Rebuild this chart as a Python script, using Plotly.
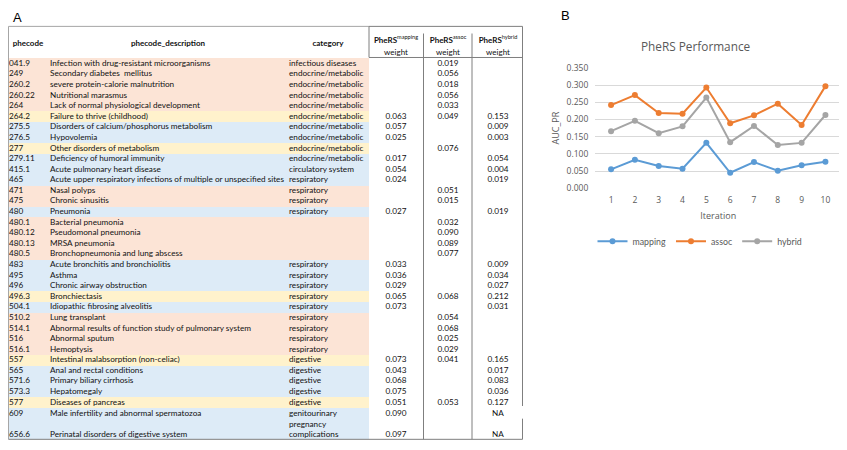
import plotly.graph_objects as go

# ---------------- data: panel A (table) ----------------
phecodes = ["041.9", "249", "260.2", "260.22", "264", "264.2", "275.5", "276.5", "277",
            "279.11", "415.1", "465", "471", "475", "480", "480.1", "480.12", "480.13",
            "480.5", "483", "495", "496", "496.3", "504.1", "510.2", "514.1", "516",
            "516.1", "557", "565", "571.6", "573.3", "577", "609", "656.6"]
descriptions = [
    "Infection with drug-resistant microorganisms", "Secondary diabetes  mellitus",
    "severe protein-calorie malnutrition", "Nutritional marasmus",
    "Lack of normal physiological development", "Failure to thrive (childhood)",
    "Disorders of calcium/phosphorus metabolism", "Hypovolemia",
    "Other disorders of metabolism", "Deficiency of humoral immunity",
    "Acute pulmonary heart disease",
    "Acute upper respiratory infections of multiple or unspecified sites",
    "Nasal polyps", "Chronic sinusitis", "Pneumonia", "Bacterial pneumonia",
    "Pseudomonal pneumonia", "MRSA pneumonia", "Bronchopneumonia and lung abscess",
    "Acute bronchitis and bronchiolitis", "Asthma", "Chronic airway obstruction",
    "Bronchiectasis", "Idiopathic fibrosing alveolitis", "Lung transplant",
    "Abnormal results of function study of pulmonary system", "Abnormal sputum",
    "Hemoptysis", "Intestinal malabsorption (non-celiac)", "Anal and rectal conditions",
    "Primary biliary cirrhosis", "Hepatomegaly", "Diseases of pancreas",
    "Male infertility and abnormal spermatozoa", "Perinatal disorders of digestive system"]
categories = ["infectious diseases"] + ["endocrine/metabolic"] * 9 + [
    "circulatory system", "respiratory", "respiratory", "respiratory", "respiratory",
    "", "", "", ""] + ["respiratory"] * 9 + ["digestive"] * 5 + [
    "genitourinary", "pregnancy<br>complications"]
w_mapping = [None, None, None, None, None, 0.063, 0.057, 0.025, None, 0.017, 0.054, 0.024,
             None, None, 0.027, None, None, None, None, 0.033, 0.036, 0.029, 0.065, 0.073,
             None, None, None, None, 0.073, 0.043, 0.068, 0.075, 0.051, 0.090, 0.097]
w_assoc = [0.019, 0.056, 0.018, 0.056, 0.033, 0.049, None, None, 0.076, None, None, None,
           0.051, 0.015, None, 0.032, 0.090, 0.089, 0.077, None, None, None, 0.068, None,
           0.054, 0.068, 0.025, 0.029, 0.041, None, None, None, 0.053, None, None]
w_hybrid = [None, None, None, None, None, 0.153, 0.009, 0.003, None, 0.054, 0.004, 0.019,
            None, None, 0.019, None, None, None, None, 0.009, 0.034, 0.027, 0.212, 0.031,
            None, None, None, None, 0.165, 0.017, 0.083, 0.036, 0.127, "NA", "NA"]
row_group = ["assoc"] * 5 + ["both", "mapping", "mapping", "both", "mapping", "mapping",
             "mapping", "assoc", "assoc", "mapping", "assoc", "assoc", "assoc", "assoc",
             "mapping", "mapping", "mapping", "both", "mapping", "assoc", "assoc", "assoc",
             "assoc", "both", "mapping", "mapping", "mapping", "both", "mapping", "mapping"]
weight_headers = ["mapping", "assoc", "hybrid"]

# ---------------- data: panel B (line chart) ----------------
iterations = ["1", "2", "3", "4", "5", "6", "7", "8", "9", "10"]
auc_mapping = [0.055, 0.083, 0.065, 0.057, 0.132, 0.045, 0.076, 0.051, 0.067, 0.077]
auc_assoc = [0.242, 0.271, 0.219, 0.217, 0.293, 0.189, 0.212, 0.246, 0.184, 0.297]
auc_hybrid = [0.166, 0.196, 0.160, 0.180, 0.264, 0.134, 0.181, 0.126, 0.132, 0.213]

# ---------------- styles / layout ----------------
PAGE_W, PAGE_H = 847, 450
OFF = 8                      # default page margin around the figure div
W, H = PAGE_W - OFF, PAGE_H - OFF


def px(x):                    # page pixel -> paper x
    return (x - OFF) / W


def py(y):                    # page pixel -> paper y
    return 1 - (y - OFF) / H


TFONT = "Lato"
GROUP_COLORS = {"assoc": "#FCE4D6", "both": "#FFF2CC", "mapping": "#DDEBF7"}
SERIES_COLORS = {"mapping": "#5B9BD5", "assoc": "#ED7D31", "hybrid": "#A5A5A5"}
TXT = 8.2
HDR = 8.0
LEFT = 8.5                   # leftmost reachable page pixel

# row geometry (page pixel units on the table axis)
n = len(phecodes)
heights = [10.86] * (n - 2) + [12.9, 19.3]
tops, y = [], 53.6
for h in heights:
    tops.append(y)
    y += h
centers = [t + h / 2 for t, h in zip(tops, heights)]
text_y = centers[:-1] + [tops[-1] + heights[-1] - 4.4]
cat_y = centers[:-1] + [centers[-1]]
table_bottom = tops[-1] + heights[-1]

fig = go.Figure()

# row backgrounds
fig.add_trace(go.Bar(
    y=centers, x=[369 - LEFT] * n, base=[LEFT] * n, width=heights, orientation="h",
    marker=dict(color=[GROUP_COLORS[g] for g in row_group], line=dict(width=0)),
    xaxis="x2", yaxis="y2", showlegend=False, hoverinfo="skip"))


def text_col(xpos, texts, ys, pos, size=TXT):
    keep = [(t, yy) for t, yy in zip(texts, ys) if t]
    fig.add_trace(go.Scatter(
        x=[xpos] * len(keep), y=[k[1] for k in keep], text=[k[0] for k in keep],
        mode="text", textposition=pos,
        textfont=dict(family=TFONT, size=size, color="#111111"),
        xaxis="x2", yaxis="y2", showlegend=False, hoverinfo="skip",
        cliponaxis=False))


def fmt(v):
    if v is None:
        return ""
    if isinstance(v, str):
        return v
    return f"{v:.3f}"


text_col(9, phecodes, text_y, "middle right")
text_col(50, descriptions, text_y, "middle right")
text_col(289, categories, cat_y, "middle right")
col_centers = [396, 448, 498]
for xc, col in zip(col_centers, [w_mapping, w_assoc, w_hybrid]):
    text_col(xc, [fmt(v) for v in col], text_y, "middle center")

# headers
text_col(28, ["<b>phecode</b>"], [38.3], "middle center", HDR)
text_col(168, ["<b>phecode_description</b>"], [38.3], "middle center", HDR)
text_col(328, ["<b>category</b>"], [38.3], "middle center", HDR)
for xc, name in zip(col_centers, weight_headers):
    text_col(xc, [f"<b>PheRS</b><sup>{name}</sup>"], [35.5], "middle center", HDR)
    text_col(xc, ["weight"], [48.3], "middle center", HDR)

# table borders
dark = "#7F7F7F"
light = "#A6A6A6"
lines = [
    (LEFT, 20.7, 369, 20.7, light), (369, 20.7, 522.5, 20.7, dark),
    (LEFT, 20.7, LEFT, table_bottom, light), (369, 20.7, 369, 52.5, dark),
    (423.5, 28, 423.5, table_bottom, dark), (472, 28, 472, table_bottom, dark),
    (522.5, 20.7, 522.5, 410, dark), (522.5, 423, 522.5, table_bottom, dark),
    (369, 52.6, 522.5, 52.6, dark), (LEFT, table_bottom, 522.5, table_bottom, dark),
]
for x0, y0, x1, y1, c in lines:
    fig.add_shape(type="line", xref="x2", yref="y2", x0=x0, y0=y0, x1=x1, y1=y1,
                  line=dict(color=c, width=1))

# ---------------- panel B ----------------
for name, vals in [("mapping", auc_mapping), ("assoc", auc_assoc), ("hybrid", auc_hybrid)]:
    fig.add_trace(go.Scatter(
        x=iterations, y=vals, name=name, mode="lines+markers",
        line=dict(color=SERIES_COLORS[name], width=2),
        marker=dict(color=SERIES_COLORS[name], size=6),
        xaxis="x", yaxis="y"))

grey = "#595959"
fig.update_layout(
    width=W, height=H,
    margin=dict(l=0, r=0, t=0, b=0),
    paper_bgcolor="white", plot_bgcolor="rgba(0,0,0,0)",
    font=dict(family="Open Sans", color=grey),
    xaxis=dict(domain=[px(595), px(841.5)], type="category", showgrid=False,
               zeroline=False, showline=False, anchor="y",
               ticks="outside", ticklen=4, tickcolor="rgba(0,0,0,0)",
               tickfont=dict(size=8.5, color=grey),
               title=dict(text="Iteration", font=dict(size=9, color=grey), standoff=8)),
    yaxis=dict(domain=[py(186.7), py(63.3)], range=[0, 0.35],
               tickvals=[0, 0.05, 0.1, 0.15, 0.2, 0.25, 0.3, 0.35], tickformat=".3f",
               showgrid=True, gridcolor="#D9D9D9", gridwidth=1, zeroline=False,
               showline=False, anchor="x", tickfont=dict(size=8.5, color=grey),
               ticks="outside", ticklen=4, tickcolor="rgba(0,0,0,0)",
               title=dict(text="AUC_PR", font=dict(size=9, color=grey), standoff=5)),
    xaxis2=dict(domain=[0, 1], range=[OFF, PAGE_W], visible=False, anchor="y2",
                fixedrange=True),
    yaxis2=dict(domain=[0, 1], range=[PAGE_H, OFF], visible=False, anchor="x2",
                fixedrange=True),
    showlegend=True,
    legend=dict(orientation="h", x=px(700), xanchor="center", y=py(241),
                yanchor="middle", font=dict(family="Lato", size=8.8, color=grey),
                bgcolor="rgba(0,0,0,0)", itemwidth=30),
    bargap=0,
)

fig.add_annotation(text="PheRS Performance", xref="paper", yref="paper",
                   x=px(696), y=py(41), showarrow=False,
                   font=dict(size=11.8, color=grey), xanchor="center", yanchor="middle")
fig.add_annotation(text="A", xref="paper", yref="paper", x=px(17), y=py(11.5),
                   showarrow=False, font=dict(family="Liberation Sans", size=13, color="black"),
                   xanchor="center", yanchor="middle")
fig.add_annotation(text="B", xref="paper", yref="paper", x=px(565), y=py(10),
                   showarrow=False, font=dict(family="Liberation Sans", size=13, color="black"),
                   xanchor="center", yanchor="middle")

fig.write_html("out.html")
